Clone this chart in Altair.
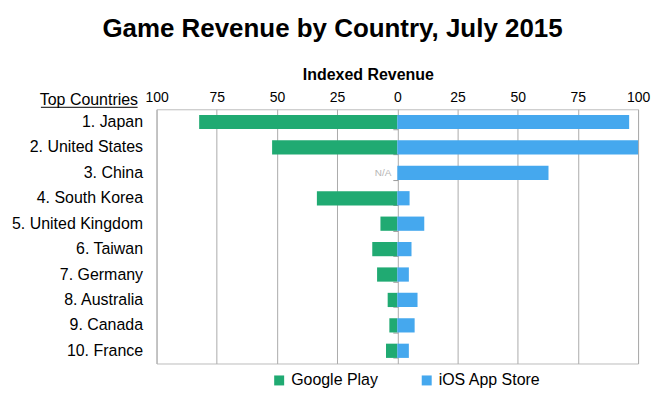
import altair as alt
import pandas as pd

countries = ["1. Japan", "2. United States", "3. China", "4. South Korea",
             "5. United Kingdom", "6. Taiwan", "7. Germany", "8. Australia",
             "9. Canada", "10. France"]
google_play = [82.3, 52.0, None, 33.4, 7.0, 10.4, 8.4, 4.0, 3.3, 4.7]
ios_app_store = [96.3, 100.0, 62.8, 5.1, 11.2, 5.9, 4.8, 8.4, 7.2, 4.8]
stores = ["Google Play", "iOS App Store"]
store_colors = ["#20AA72", "#45A8EE"]
tick_values = [-100, -75, -50, -25, 0, 25, 50, 75, 100]

rows = []
for c, g, i in zip(countries, google_play, ios_app_store):
    if g is not None:
        rows.append({"country": c, "store": "Google Play", "value": -g})
    rows.append({"country": c, "store": "iOS App Store", "value": i})
df = pd.DataFrame(rows)

na_df = pd.DataFrame({"country": [c for c, g in zip(countries, google_play) if g is None]})
na_df["value"] = 0
na_df["label"] = "N/A"

FONT = "Liberation Sans"

y_enc = alt.Y(
    "country:N", sort=countries,
    scale=alt.Scale(paddingInner=0.44, paddingOuter=0.22),
    axis=alt.Axis(title="Top Countries", titleAngle=0, titleAlign="right",
                  titleBaseline="alphabetic", titleX=-19, titleY=-5,
                  titleFontSize=16, titleFontWeight="normal", titleFont=FONT,
                  titleColor="black", labelFont=FONT, labelFontSize=16,
                  labelColor="black", labelPadding=14, ticks=False, domain=False),
)

x_enc = alt.X(
    "value:Q",
    scale=alt.Scale(domain=[-100, 100], nice=False, zero=True),
    axis=alt.Axis(orient="top", values=tick_values,
                  labelExpr="'' + abs(datum.value)", labelFlush=False,
                  labelOverlap=False, labelFont=FONT, labelFontSize=14,
                  labelColor="black", labelPadding=5,
                  title="Indexed Revenue", titleFont=FONT, titleFontSize=16,
                  titleFontWeight="bold", titleColor="black",
                  titleX=212, titleY=-35, titleBaseline="middle",
                  grid=True, gridColor="#ababab", gridWidth=1,
                  ticks=False, domain=False),
)

bars = alt.Chart(df).mark_bar().encode(
    x=x_enc,
    y=y_enc,
    color=alt.Color("store:N", scale=alt.Scale(domain=stores, range=store_colors),
                    legend=alt.Legend(orient="none", legendX=115, legendY=264,
                                      direction="horizontal", title=None,
                                      symbolType="square", symbolSize=100,
                                      symbolStrokeWidth=0, labelFont=FONT,
                                      labelFontSize=16, labelColor="black",
                                      columnPadding=40)),
)

na_text = alt.Chart(na_df).mark_text(
    align="right", dx=-6, font=FONT, fontSize=10, color="#b5b5b5"
).encode(
    x=alt.X("value:Q"),
    y=alt.Y("country:N", sort=countries,
            axis=alt.Axis(orient="left", offset=-242, labels=False, title=None,
                          domain=False, ticks=True, tickSize=5,
                          tickBand="extent", tickColor="#999999", grid=False)),
    text="label:N",
)

# underline of the "Top Countries" header (decoration)
underline = alt.Chart(na_df).mark_rule(color="black", strokeWidth=1).encode(
    x=alt.value(-116), x2=alt.value(-19), y=alt.value(-2)
)

chart = alt.layer(bars, na_text, underline).resolve_axis(y="independent").properties(
    width=483, height=255,
    title=alt.TitleParams("Game Revenue by Country, July 2015", font=FONT,
                          fontSize=26, fontWeight="bold", color="black",
                          anchor="middle", dx=-65, dy=-21),
    autosize="none",
    padding={"left": 149, "top": 101, "right": 20, "bottom": 30},
).configure_view(stroke="#bdbdbd", strokeWidth=1)

chart.save("out.html", embed_options={"renderer": "svg", "actions": False})
